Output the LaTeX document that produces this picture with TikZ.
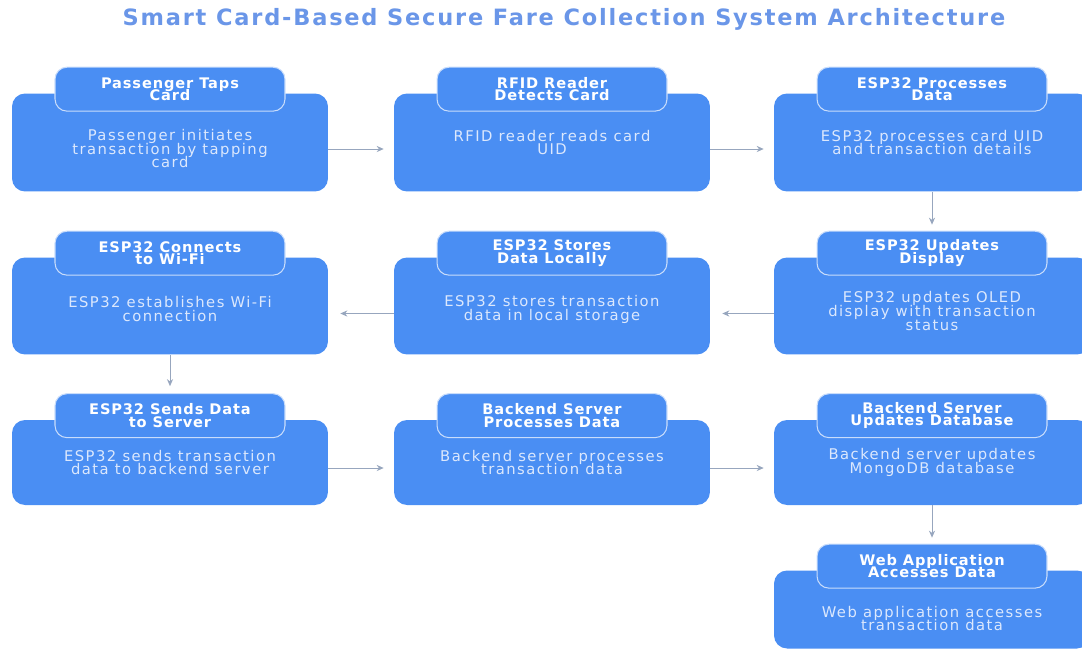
\documentclass[tikz,border=0pt]{standalone}
\usepackage{fontspec}
\setmainfont{DejaVu Sans}
\newfontfamily\widefont[LetterSpace=10]{DejaVu Sans}
\newfontfamily\tabfont[LetterSpace=6]{DejaVu Sans}
\newfontfamily\titlefont[LetterSpace=8]{DejaVu Sans}
\newcommand\tightlines{\lineskiplimit=-10pt\relax}
\usetikzlibrary{arrows.meta}

\definecolor{cardblue}{HTML}{4A8EF3}
\definecolor{tabline}{HTML}{C9DDFB}
\definecolor{bodytext}{HTML}{DCE8FD}
\definecolor{titleblue}{HTML}{6A96E8}
\definecolor{flowgray}{HTML}{97A6BE}

\tikzset{
  stepbox/.style={fill=cardblue, rounded corners=0.26cm, minimum width=6.32cm, inner sep=0pt},
  steptab/.style={fill=cardblue, draw=tabline, line width=0.6pt, rounded corners=0.24cm,
    minimum width=4.6cm, minimum height=0.88cm, inner sep=0pt, align=center,
    text=white, font=\tabfont\bfseries\fontsize{8.3}{7}\selectfont\tightlines},
  steptext/.style={align=center, text=bodytext,
    font=\widefont\fontsize{8.4}{7.9}\selectfont\tightlines},
  flow/.style={draw=flowgray, line width=0.5pt, -{Stealth[length=4pt,width=3.5pt]}}
}

\begin{document}
\begin{tikzpicture}[x=0.02cm,y=-0.02cm]
\useasboundingbox (0,0) rectangle (1082,650);
\node[text=titleblue, font=\titlefont\bfseries\fontsize{12.8}{14}\selectfont] (title) at (564,19)
  {Smart Card-Based Secure Fare Collection System Architecture};

% row 1
\node[stepbox, minimum height=1.96cm] (m1) at (170,142.5) {};
\node[stepbox, minimum height=1.96cm] (m2) at (552,142.5) {};
\node[stepbox, minimum height=1.96cm] (m3) at (932,142.5) {};
% row 2
\node[stepbox, minimum height=1.94cm] (m6) at (170,306) {};
\node[stepbox, minimum height=1.94cm] (m5) at (552,306) {};
\node[stepbox, minimum height=1.94cm] (m4) at (932,306) {};
% row 3
\node[stepbox, minimum height=1.7cm] (m7) at (170,462.5) {};
\node[stepbox, minimum height=1.7cm] (m8) at (552,462.5) {};
\node[stepbox, minimum height=1.7cm] (m9) at (932,462.5) {};
% row 4
\node[stepbox, minimum height=1.56cm] (m10) at (932,609.5) {};

\node[steptab] (t1) at ([yshift=0.08cm]m1.north) {Passenger Taps\\Card};
\node[steptab] (t2) at ([yshift=0.08cm]m2.north) {RFID Reader\\Detects Card};
\node[steptab] (t3) at ([yshift=0.08cm]m3.north) {ESP32 Processes\\Data};
\node[steptab] (t4) at ([yshift=0.08cm]m4.north) {ESP32 Updates\\Display};
\node[steptab] (t5) at ([yshift=0.08cm]m5.north) {ESP32 Stores\\Data Locally};
\node[steptab] (t6) at ([yshift=0.08cm]m6.north) {ESP32 Connects\\to Wi-Fi};
\node[steptab] (t7) at ([yshift=0.08cm]m7.north) {ESP32 Sends Data\\to Server};
\node[steptab] (t8) at ([yshift=0.08cm]m8.north) {Backend Server\\Processes Data};
\node[steptab] (t9) at ([yshift=0.08cm]m9.north) {Backend Server\\Updates Database};
\node[steptab] (t10) at ([yshift=0.08cm]m10.north) {Web Application\\Accesses Data};

\node[steptext] (b1) at ([yshift=-0.12cm]m1.center) {Passenger initiates\\transaction by tapping\\card};
\node[steptext] (b2) at (m2.center) {RFID reader reads card\\UID};
\node[steptext] (b3) at (m3.center) {ESP32 processes card UID\\and transaction details};
\node[steptext] (b4) at ([yshift=-0.1cm]m4.center) {ESP32 updates OLED\\display with transaction\\status};
\node[steptext] (b5) at ([yshift=-0.06cm]m5.center) {ESP32 stores transaction\\data in local storage};
\node[steptext] (b6) at ([yshift=-0.06cm]m6.center) {ESP32 establishes Wi-Fi\\connection};
\node[steptext] (b7) at (m7.center) {ESP32 sends transaction\\data to backend server};
\node[steptext] (b8) at (m8.center) {Backend server processes\\transaction data};
\node[steptext] (b9) at (m9.center) {Backend server updates\\MongoDB database};
\node[steptext] (b10) at ([yshift=-0.18cm]m10.center) {Web application accesses\\transaction data};

% connectors
\draw[flow, shorten >=0.2cm] ([yshift=-0.13cm]m1.east) -- ([yshift=-0.13cm]m2.west);
\draw[flow, shorten >=0.2cm] ([yshift=-0.13cm]m2.east) -- ([yshift=-0.13cm]m3.west);
\draw[flow, shorten >=0.12cm] (m3.south) -- (t4.north);
\draw[flow, shorten >=0.24cm] ([yshift=-0.15cm]m4.west) -- ([yshift=-0.15cm]m5.east);
\draw[flow, shorten >=0.24cm] ([yshift=-0.15cm]m5.west) -- ([yshift=-0.15cm]m6.east);
\draw[flow, shorten >=0.14cm] (m6.south) -- (t7.north);
\draw[flow, shorten >=0.2cm] ([yshift=-0.11cm]m7.east) -- ([yshift=-0.11cm]m8.west);
\draw[flow, shorten >=0.2cm] ([yshift=-0.11cm]m8.east) -- ([yshift=-0.11cm]m9.west);
\draw[flow, shorten >=0.12cm] (m9.south) -- (t10.north);
\end{tikzpicture}
\end{document}
